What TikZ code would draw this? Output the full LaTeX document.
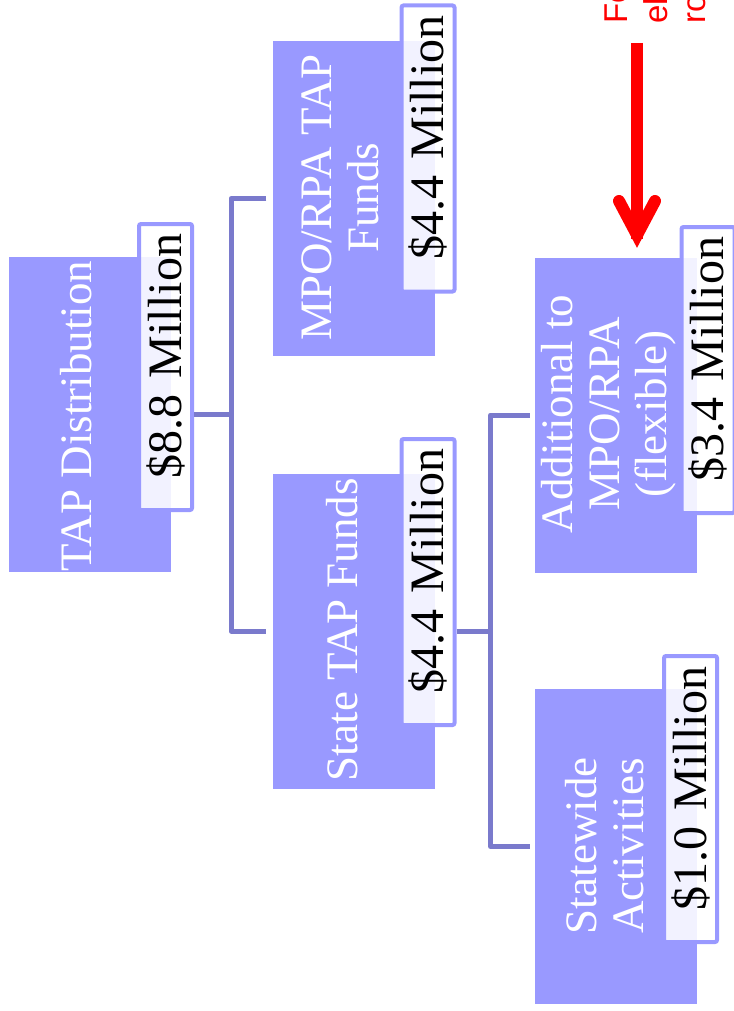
\documentclass[tikz,border=0pt]{standalone}
\usepackage{fontspec}
\setmainfont{Liberation Serif}
\newfontfamily\notefont{Liberation Sans}
\definecolor{boxfill}{RGB}{153,153,255}
\definecolor{linkcol}{RGB}{122,122,204}
\definecolor{notered}{RGB}{255,0,0}
\tikzset{
  fundbox/.style={fill=boxfill, draw=none, minimum width=162pt, minimum height=315pt, inner sep=0pt},
  fundtext/.style={rotate=90, text=white, align=center, inner sep=0pt,
    font=\fontsize{45}{47}\selectfont},
  amtbox/.style={rotate=90, draw=boxfill, line width=4pt, rounded corners=2pt,
    fill=white, fill opacity=.88, text opacity=1, minimum width=286pt, minimum height=53pt,
    text width=266pt, align=right, inner xsep=10pt, inner ysep=0pt,
    font=\fontsize{48}{50}\selectfont},
  link/.style={draw=linkcol, line width=5pt, line join=round},
  notetext/.style={rotate=90, anchor=base west, inner sep=0pt, text=notered,
    font=\notefont\fontsize{33}{40}\selectfont},
}
\begin{document}
\begin{tikzpicture}[x=1pt,y=-1pt]
\useasboundingbox (0,0) rectangle (733,1011);

% Fund boxes
\node[fundbox] (tap) at (90,414.5) {};
\node[fundbox] (mpo) at (353.5,198.5) {};
\node[fundbox] (state) at (353.5,631) {};
\node[fundbox] (add) at (616,415) {};
\node[fundbox] (sw) at (616,846.5) {};

\node[fundtext] at (76.5,416) {TAP Distribution};
\node[fundtext] at (340,197.5) {MPO/RPA TAP\\Funds};
\node[fundtext] at (342.5,630) {State TAP Funds};
\node[fundtext] at (609,414) {Additional to\\MPO/RPA\\(flexible)};
\node[fundtext] at (605,846) {Statewide\\Activities};

% Amount tags
\node[amtbox] (tapamt) at (165.5,367) {\$8.8 Million};
\node[amtbox] (mpoamt) at (428,148.5) {\$4.4 Million};
\node[amtbox] (stateamt) at (428,582) {\$4.4 Million};
\node[amtbox] (addamt) at (708,370) {\$3.4 Million};
\node[amtbox] (swamt) at (690.5,799) {\$1.0 Million};

% Connectors
\draw[link] (tapamt.south |- tap) -- ++(37,0) coordinate (j1);
\draw[link] ([xshift=-6pt]mpo.west) -| (j1) |- ([xshift=-6pt]state.west);
\draw[link] (stateamt.south |- state) -- ++(34,0) coordinate (j2);
\draw[link] ([xshift=-5pt]add.west) -| (j2) |- ([xshift=-5pt]sw.west);

% Red note and arrow
\node[notetext] (note1) at (627,24) {Fo};
\node[notetext] (note2) at (667,24) {el};
\node[notetext] (note3) at (705,24) {ro};

\coordinate (arrtop) at (637,43);
\coordinate (arrtip) at (637,235);
\draw[notered, line width=12pt] (arrtop) -- ([yshift=-4pt]arrtip);
\draw[notered, line width=12pt, line cap=round, line join=miter]
  (619,201) -- (arrtip) -- (655,201);
\end{tikzpicture}
\end{document}
